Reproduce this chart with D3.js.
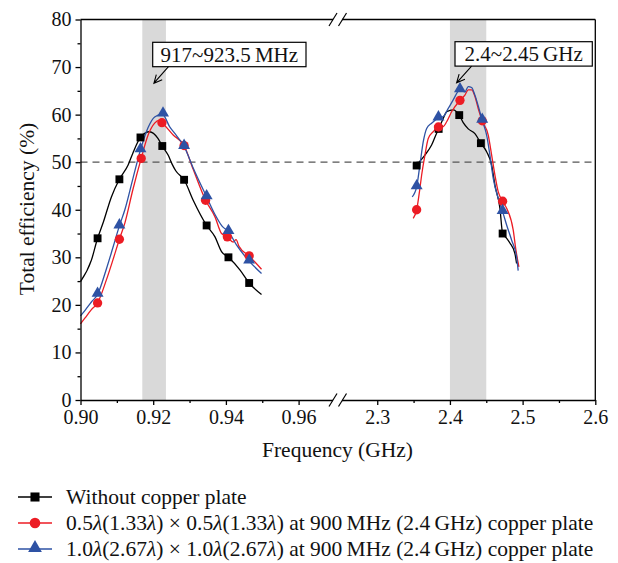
<!DOCTYPE html>
<html>
<head>
<meta charset="utf-8">
<script src="https://cdn.jsdelivr.net/npm/d3@7"></script>
<style>
  body { margin: 0; background: #fff; }
  text { font-family: "Liberation Serif", "Times New Roman", serif; }
</style>
</head>
<body>
<div id="chart"></div>
<script>
/* global d3 */

/* tick values */
var lowTicks = [0.90, 0.92, 0.94, 0.96];
var lowMinor = [0.91, 0.93, 0.95];
var highTicks = [2.3, 2.4, 2.5, 2.6];
var highMinor = [2.35, 2.45, 2.55];
var yTicks = [0, 10, 20, 30, 40, 50, 60, 70, 80];
var yMinor = [5, 15, 25, 35, 45, 55, 65, 75];

/* shaded bands and their labels */
var bands = [[0.917, 0.9235], [2.4, 2.45]];
var bandLabels = ["917~923.5\u2009MHz", "2.4~2.45\u2009GHz"];
var refLevel = 50;

var seriesNames = [
  "Without copper plate",
  "0.5λ(1.33λ) × 0.5λ(1.33λ) at 900\u2009MHz (2.4\u2009GHz) copper plate",
  "1.0λ(2.67λ) × 1.0λ(2.67λ) at 900\u2009MHz (2.4\u2009GHz) copper plate"
];

/* measured curves [GHz, %] */
var noPlateLow = [[0.9000, 24.9], [0.9030, 29.4], [0.9047, 34.0], [0.9062, 37.2], [0.9085, 42.7],
  [0.9107, 46.4], [0.9131, 49.4], [0.9144, 51.9], [0.9165, 55.2], [0.9190, 56.4], [0.9213, 55.0],
  [0.9225, 53.4], [0.9241, 51.5], [0.9252, 49.6], [0.9262, 48.2], [0.9285, 46.3], [0.9310, 42.0],
  [0.9347, 36.7], [0.9370, 34.3], [0.9388, 31.2], [0.9407, 30.0], [0.9439, 27.3], [0.9464, 24.6],
  [0.9498, 22.2]];
var noPlateHigh = [[2.3532, 49.3], [2.3656, 51.5], [2.3748, 53.6], [2.3817, 56.1], [2.3845, 57.0],
  [2.3908, 59.2], [2.3955, 60.6], [2.4045, 61.0], [2.4128, 59.9], [2.4183, 58.3], [2.4252, 57.0],
  [2.4344, 56.0], [2.4426, 54.0], [2.4505, 52.2], [2.4574, 49.4], [2.4619, 45.2], [2.4688, 40.3],
  [2.4725, 35.0], [2.4780, 34.0], [2.4825, 33.0], [2.4894, 30.8], [2.4917, 28.7]];
var halfPlateLow = [[0.9000, 16.0], [0.9012, 17.2], [0.9030, 19.0], [0.9047, 20.4], [0.9071, 25.2],
  [0.9089, 29.4], [0.9107, 33.8], [0.9122, 37.2], [0.9144, 44.2], [0.9167, 50.8], [0.9186, 55.7],
  [0.9204, 58.2], [0.9215, 58.8], [0.9224, 58.3], [0.9255, 55.7], [0.9285, 53.5], [0.9310, 48.5],
  [0.9344, 42.0], [0.9370, 38.5], [0.9388, 35.0], [0.9404, 34.3], [0.9420, 33.2], [0.9428, 33.7],
  [0.9436, 32.3], [0.9464, 30.3], [0.9498, 27.5]];
var halfPlateHigh = [[2.3495, 38.2], [2.3542, 40.0], [2.3587, 44.5], [2.3611, 47.3], [2.3656, 51.5],
  [2.3702, 55.0], [2.3770, 56.4], [2.3842, 57.4], [2.3908, 57.5], [2.3955, 58.5], [2.4023, 60.6],
  [2.4138, 63.0], [2.4206, 64.1], [2.4252, 65.2], [2.4298, 65.2], [2.4344, 63.8], [2.4389, 61.3],
  [2.4444, 58.7], [2.4527, 55.7], [2.4574, 51.5], [2.4619, 47.3], [2.4664, 43.8], [2.4725, 41.8],
  [2.4780, 40.3], [2.4871, 35.7], [2.4908, 31.5], [2.4949, 28.0]];
var fullPlateLow = [[0.9000, 17.7], [0.9012, 18.8], [0.9030, 20.6], [0.9047, 22.2], [0.9071, 27.5],
  [0.9089, 32.0], [0.9107, 36.6], [0.9122, 40.0], [0.9144, 46.5], [0.9165, 52.6], [0.9186, 57.3],
  [0.9204, 59.5], [0.9225, 60.1], [0.9245, 57.5], [0.9265, 55.5], [0.9285, 53.3], [0.9310, 48.8],
  [0.9347, 42.7], [0.9370, 39.0], [0.9390, 36.5], [0.9407, 35.4], [0.9430, 32.5], [0.9464, 29.2],
  [0.9498, 26.6]];
var fullPlateHigh = [[2.3481, 42.7], [2.3542, 44.8], [2.3587, 49.4], [2.3633, 54.3], [2.3680, 57.1],
  [2.3748, 58.2], [2.3842, 59.3], [2.3908, 59.6], [2.3977, 61.3], [2.4045, 63.1], [2.4138, 65.2],
  [2.4206, 64.8], [2.4252, 65.9], [2.4298, 65.7], [2.4344, 64.1], [2.4399, 61.3], [2.4444, 58.8],
  [2.4505, 55.7], [2.4550, 51.5], [2.4596, 46.6], [2.4664, 42.4], [2.4725, 39.6], [2.4780, 36.8],
  [2.4849, 33.6], [2.4917, 30.1], [2.4939, 27.2]];

/* marked points [GHz, %] */
var noPlateMarks = [[0.9047, 34.0], [0.9107, 46.4], [0.9165, 55.2], [0.9225, 53.4], [0.9285, 46.3],
  [0.9347, 36.7], [0.9407, 30.0], [0.9464, 24.6],
  [2.3542, 49.3], [2.3845, 57.0], [2.4128, 59.9], [2.4426, 54.0], [2.4725, 35.0]];
var halfPlateMarks = [[0.9047, 20.4], [0.9107, 33.8], [0.9167, 50.8], [0.9224, 58.3], [0.9285, 53.5],
  [0.9344, 42.0], [0.9404, 34.3], [0.9464, 30.3],
  [2.3542, 40.0], [2.3842, 57.4], [2.4138, 63.0], [2.4444, 58.7], [2.4725, 41.8]];
var fullPlateMarks = [[0.9047, 22.2], [0.9107, 36.6], [0.9165, 52.6], [0.9227, 60.1], [0.9285, 53.3],
  [0.9347, 42.7], [0.9407, 35.4], [0.9464, 29.2],
  [2.3542, 44.8], [2.3842, 59.3], [2.4138, 65.2], [2.4444, 58.8], [2.4725, 39.6]];

/* arrow tail / tip of the band labels, in data units */
var arrowTails = [[0.9242, 70.1], [2.4298, 70.2]];
var arrowTips = [[0.9202, 66.6], [2.4092, 66.7]];


function draw() {
  var FONT = '"Liberation Serif", "Times New Roman", serif';
  var colors = ["#000000", "#ec1c24", "#2e52a4"];
  var shapes = [d3.symbolSquare, d3.symbolCircle, d3.symbolTriangle];
  var sizes = [62, 68, 62];

  var svg = d3.select("#chart").append("svg")
    .attr("width", 618)
    .attr("height", 563);

  var left = 80.5, right = 595.3, top = 19.5, bottom = 400;

  var y = d3.scaleLinear().domain([0, 80]).range([bottom, top]);
  var xLow = d3.scaleLinear().domain([0.90, 0.97]).range([left, 334.95]);
  var xHigh = d3.scaleLinear().domain([2.25, 2.6]).range([340.9, right]);
  var x = function(f) { return f < 1.5 ? xLow(f) : xHigh(f); };

  /* shaded bands */
  svg.selectAll(".band")
    .data(bands)
    .enter().append("rect")
    .attr("class", "band")
    .attr("x", function(d) { return x(d[0]); })
    .attr("width", function(d) { return x(d[1]) - x(d[0]); })
    .attr("y", top)
    .attr("height", bottom - top)
    .style("fill", "#d9d9d9");

  /* 50% reference */
  svg.append("line")
    .attr("x1", left).attr("x2", right)
    .attr("y1", y(refLevel)).attr("y2", y(refLevel))
    .style("stroke", "#555")
    .style("stroke-width", 1.2)
    .style("stroke-dasharray", "7,5");

  /* curves */
  var line = d3.line()
    .x(function(d) { return x(d[0]); })
    .y(function(d) { return y(d[1]); })
    .curve(d3.curveMonotoneX);

  var curves = [[noPlateLow, noPlateHigh], [halfPlateLow, halfPlateHigh], [fullPlateLow, fullPlateHigh]];
  var marks = [noPlateMarks, halfPlateMarks, fullPlateMarks];

  curves.forEach(function(segs, i) {
    svg.append("g").selectAll("path")
      .data(segs)
      .enter().append("path")
      .attr("d", line)
      .style("fill", "none")
      .style("stroke", colors[i])
      .style("stroke-width", 1.3);
  });

  marks.forEach(function(pts, i) {
    svg.append("g").selectAll("path")
      .data(pts)
      .enter().append("path")
      .attr("transform", function(d) {
        var dy = i === 2 ? -1 : 0;
        return "translate(" + x(d[0]) + "," + (y(d[1]) + dy) + ")";
      })
      .attr("d", d3.symbol().type(shapes[i]).size(sizes[i]))
      .style("fill", colors[i]);
  });

  /* axes */
  function styleAxis(g, size) {
    g.attr("font-family", FONT).attr("font-size", size);
    g.selectAll("text").style("fill", "#111");
    g.selectAll("line, path").style("stroke", "#000").style("stroke-width", 1.3);
  }

  var gxl = svg.append("g").attr("transform", "translate(0," + bottom + ")")
    .call(d3.axisBottom(xLow).tickValues(lowTicks).tickFormat(d3.format(".2f"))
      .tickSizeInner(5).tickSizeOuter(0).tickPadding(5));
  styleAxis(gxl, 20);
  var gxlm = svg.append("g").attr("transform", "translate(0," + bottom + ")")
    .call(d3.axisBottom(xLow).tickValues(lowMinor).tickFormat("").tickSize(3));
  styleAxis(gxlm, 20);
  gxlm.select(".domain").remove();

  var gxh = svg.append("g").attr("transform", "translate(0," + bottom + ")")
    .call(d3.axisBottom(xHigh).tickValues(highTicks).tickFormat(d3.format(".1f"))
      .tickSizeInner(5).tickSizeOuter(0).tickPadding(5));
  styleAxis(gxh, 20);
  var gxhm = svg.append("g").attr("transform", "translate(0," + bottom + ")")
    .call(d3.axisBottom(xHigh).tickValues(highMinor).tickFormat("").tickSize(3));
  styleAxis(gxhm, 20);
  gxhm.select(".domain").remove();

  var gy = svg.append("g").attr("transform", "translate(" + left + ",0)")
    .call(d3.axisLeft(y).tickValues(yTicks).tickSizeInner(5).tickSizeOuter(0).tickPadding(4));
  styleAxis(gy, 20);
  var gym = svg.append("g").attr("transform", "translate(" + left + ",0)")
    .call(d3.axisLeft(y).tickValues(yMinor).tickFormat("").tickSize(3));
  styleAxis(gym, 20);
  gym.select(".domain").remove();

  /* top and right frame */
  var frame = svg.append("g").style("stroke", "#000").style("stroke-width", 1.3);
  frame.append("line").attr("x1", left).attr("x2", xLow.range()[1]).attr("y1", top).attr("y2", top);
  frame.append("line").attr("x1", xHigh.range()[0]).attr("x2", right).attr("y1", top).attr("y2", top);
  frame.append("line").attr("x1", right).attr("x2", right).attr("y1", top).attr("y2", bottom);

  /* axis break marks */
  [top, bottom].forEach(function(yy) {
    svg.append("rect")
      .attr("x", 333).attr("y", yy - 2).attr("width", 9).attr("height", 4)
      .style("fill", "#fff");
    [333, 342.5].forEach(function(cx) {
      svg.append("line")
        .attr("x1", cx - 4).attr("y1", yy + 6.5)
        .attr("x2", cx + 4).attr("y2", yy - 6.5)
        .style("stroke", "#000").style("stroke-width", 1.2);
    });
  });

  /* axis titles */
  svg.append("text")
    .attr("x", 337.5).attr("y", 457)
    .attr("text-anchor", "middle")
    .style("font-size", "21.5px")
    .style("fill", "#111")
    .text("Frequency (GHz)");

  svg.append("text")
    .attr("transform", "translate(34,209) rotate(-90)")
    .attr("text-anchor", "middle")
    .style("font-size", "21.5px")
    .style("fill", "#111")
    .text("Total efficiency (%)");

  /* band labels with arrows */
  var boxes = [{x: 152.7, y: 42.3, w: 153.3, h: 24.4}, {x: 455, y: 41.7, w: 137.3, h: 24.4}];
  boxes.forEach(function(b, i) {
    svg.append("rect")
      .attr("x", b.x).attr("y", b.y).attr("width", b.w).attr("height", b.h)
      .style("fill", "#fff").style("stroke", "#000").style("stroke-width", 1.2);
    svg.append("text")
      .attr("x", b.x + b.w / 2).attr("y", b.y + b.h / 2)
      .attr("dy", "0.35em")
      .attr("text-anchor", "middle")
      .style("font-size", "21px")
      .style("fill", "#111")
      .text(bandLabels[i]);

    var tx = x(arrowTails[i][0]), ty = y(arrowTails[i][1]);
    var hx = x(arrowTips[i][0]), hy = y(arrowTips[i][1]);
    var ang = Math.atan2(ty - hy, tx - hx), len = 9, spread = 0.45;
    var p = "M" + tx + "," + ty + "L" + hx + "," + hy +
      "M" + (hx + len * Math.cos(ang - spread)) + "," + (hy + len * Math.sin(ang - spread)) +
      "L" + hx + "," + hy +
      "L" + (hx + len * Math.cos(ang + spread)) + "," + (hy + len * Math.sin(ang + spread));
    svg.append("path").attr("d", p)
      .style("fill", "none").style("stroke", "#000").style("stroke-width", 1.1);
  });

  /* legend */
  var rowY = [497, 523, 549];
  seriesNames.forEach(function(name, i) {
    var g = svg.append("g").attr("transform", "translate(0," + rowY[i] + ")");
    g.append("line").attr("x1", 18).attr("x2", 52).attr("y1", 0).attr("y2", 0)
      .style("stroke", colors[i]).style("stroke-width", 1.3);
    g.append("path")
      .attr("transform", "translate(35," + (i === 2 ? -1 : 0) + ")")
      .attr("d", d3.symbol().type(shapes[i]).size(sizes[i] + 20))
      .style("fill", colors[i]);
    var t = g.append("text").attr("x", 66).attr("dy", "0.33em")
      .style("font-size", "21.5px").style("fill", "#111");
    name.split("λ").forEach(function(part, j) {
      if (j > 0) t.append("tspan").style("font-style", "italic").text("λ");
      t.append("tspan").text(part);
    });
  });
}

draw();
</script>
</body>
</html>
